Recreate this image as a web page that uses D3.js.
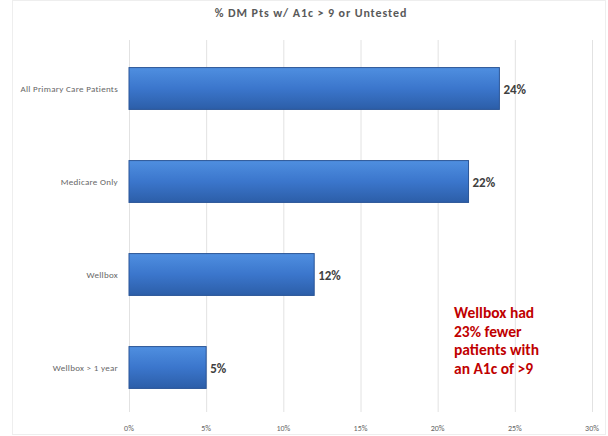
<!DOCTYPE html>
<html><head><meta charset="utf-8">
<script src="https://cdn.jsdelivr.net/npm/d3@7/dist/d3.min.js"></script>
<style>body{margin:0;background:#fff}svg{display:block}</style>
</head><body>
<svg id="c" width="608" height="436"></svg>
<script>
const categories = ["All Primary Care Patients", "Medicare Only", "Wellbox", "Wellbox > 1 year"];
const values = [0.24, 0.22, 0.12, 0.05];
const valueLabels = ["24%", "22%", "12%", "5%"];
const tickValues = [0, 0.05, 0.10, 0.15, 0.20, 0.25, 0.30];
const title = "% DM Pts w/ A1c > 9 or Untested";
const note = ["Wellbox had", "23% fewer", "patients with", "an A1c of >9"];

const svg = d3.select("#c");
const font = "Calibri, Carlito, 'Liberation Sans', Arial, sans-serif";
const x = d3.scaleLinear().domain([0, 0.30]).range([129, 592]);
const y = d3.scaleBand().domain(categories).range([42, 414]).paddingInner(0.55).paddingOuter(0.275);

const defs = svg.append("defs");
const g = defs.append("linearGradient").attr("id","bg").attr("x1",0).attr("y1",0).attr("x2",0).attr("y2",1);
g.append("stop").attr("offset","0%").attr("stop-color","#4f8fe0");
g.append("stop").attr("offset","50%").attr("stop-color","#3b76cc");
g.append("stop").attr("offset","100%").attr("stop-color","#2c5ea8");

// outer border
svg.append("rect").attr("x",12.5).attr("y",0.5).attr("width",593).attr("height",434)
  .attr("fill","none").attr("stroke","#eeeeee");

// gridlines
svg.append("g").selectAll("line").data(tickValues).join("line")
  .attr("x1",d=>x(d)+0.5).attr("x2",d=>x(d)+0.5).attr("y1",40).attr("y2",412)
  .attr("stroke","#e2e2e2").attr("stroke-width",1);

// tick labels
svg.append("g").selectAll("text").data(tickValues).join("text")
  .attr("x",d=>x(d)).attr("y",431).attr("text-anchor","middle")
  .attr("font-family",font).attr("font-size",8).attr("fill","#666")
  .text(d=>d3.format(".0%")(d));

// title
svg.append("text").attr("x",311).attr("y",17).attr("text-anchor","middle")
  .attr("font-family",font).attr("font-size",12).attr("font-weight","bold").attr("fill","#595959")
  .attr("letter-spacing",0.9)
  .text(title);

// category labels
svg.append("g").selectAll("text").data(categories).join("text")
  .attr("x",118).attr("y",d=>y(d)+y.bandwidth()/2+3).attr("text-anchor","end")
  .attr("font-family",font).attr("font-size",9).attr("fill","#666").attr("letter-spacing",0.3)
  .text(d=>d);

// bars
svg.append("g").selectAll("rect").data(values).join("rect")
  .attr("x",x(0)).attr("y",(d,i)=>y(categories[i]))
  .attr("width",d=>x(d)-x(0)).attr("height",y.bandwidth())
  .attr("fill","url(#bg)").attr("stroke","#2a5597").attr("stroke-width",1);

// value labels
svg.append("g").selectAll("text").data(values).join("text")
  .attr("x",d=>x(d)+4).attr("y",(d,i)=>y(categories[i])+y.bandwidth()/2+5)
  .attr("font-family",font).attr("font-size",13).attr("font-weight","bold").attr("fill","#404040")
  .text((d,i)=>valueLabels[i]);

// annotation
svg.append("g").selectAll("text").data(note).join("text")
  .attr("x",454).attr("y",(d,i)=>318+i*18.5)
  .attr("font-family",font).attr("font-size",15.5).attr("font-weight","bold").attr("fill","#c00000")
  .text(d=>d);
</script>
</body></html>
